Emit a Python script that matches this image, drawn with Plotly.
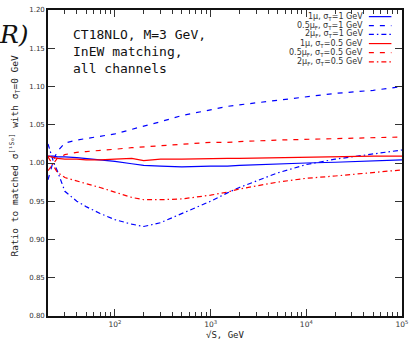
import plotly.graph_objects as go

# Collision energy sqrt(S) in GeV
energy = [20, 23, 25, 30, 40, 50, 70, 100, 150, 200, 300, 500,
          1000, 1500, 2000, 5000, 10000, 20000, 50000, 100000]

# Ratios to the matched cross section with sigma_T = 0 GeV
mu1_s1 = [1.009, 1.009, 1.008, 1.008, 1.007, 1.006, 1.004, 1.002, 0.999, 0.997, 0.996, 0.995,
          0.996, 0.996, 0.997, 0.999, 1.000, 1.001, 1.003, 1.004]
mu05_s1 = [0.978, 1.005, 1.015, 1.026, 1.030, 1.032, 1.035, 1.038, 1.044, 1.048, 1.054, 1.062,
           1.070, 1.074, 1.076, 1.082, 1.087, 1.091, 1.095, 1.100]
mu2_s1 = [1.025, 1.000, 0.990, 0.963, 0.950, 0.943, 0.934, 0.926, 0.920, 0.917, 0.922, 0.934,
          0.950, 0.961, 0.968, 0.987, 0.998, 1.005, 1.012, 1.017]
mu1_s05 = [1.009, 1.007, 1.006, 1.005, 1.005, 1.004, 1.004, 1.005, 1.006, 1.003, 1.005, 1.005,
           1.006, 1.006, 1.006, 1.007, 1.008, 1.008, 1.009, 1.009]
mu05_s05 = [0.990, 1.000, 1.006, 1.011, 1.014, 1.015, 1.016, 1.018, 1.020, 1.021, 1.022, 1.024,
            1.027, 1.027, 1.028, 1.030, 1.031, 1.032, 1.033, 1.034]
mu2_s05 = [1.008, 0.995, 0.988, 0.981, 0.977, 0.973, 0.968, 0.962, 0.955, 0.952, 0.952, 0.953,
           0.958, 0.962, 0.966, 0.975, 0.980, 0.983, 0.988, 0.991]

series = [
    ("1μ, σ<sub>T</sub>=1 GeV", mu1_s1, "#0000ff", "solid"),
    ("0.5μ<sub>F</sub>, σ<sub>T</sub>=1 GeV", mu05_s1, "#0000ff", "5px,6px"),
    ("2μ<sub>F</sub>, σ<sub>T</sub>=1 GeV", mu2_s1, "#0000ff", "5px,3px,1.5px,3px"),
    ("1μ, σ<sub>T</sub>=0.5 GeV", mu1_s05, "#ff0000", "solid"),
    ("0.5μ<sub>F</sub>, σ<sub>T</sub>=0.5 GeV", mu05_s05, "#ff0000", "5px,6px"),
    ("2μ<sub>F</sub>, σ<sub>T</sub>=0.5 GeV", mu2_s05, "#ff0000", "5px,3px,1.5px,3px"),
]

y_ticks = [0.80, 0.85, 0.90, 0.95, 1.00, 1.05, 1.10, 1.15, 1.20]

W, H = 415, 345
L, R, T, B = 47.7, 6.2, 10, 26
pw, ph = W - L - R, H - T - B


def px(x):
    return (x - L) / pw


def py(y):
    return 1 - (y - T) / ph


fig = go.Figure()
for name, vals, color, dash in series:
    fig.add_trace(go.Scatter(x=energy, y=vals, mode="lines", name=name,
                             line=dict(color=color, width=1.2, dash=dash),
                             showlegend=False))

# Legend drawn in the upper right corner: text right-aligned, sample on the right
row_y = [16.7, 25.7, 34.7, 43.9, 53.1, 62.3]
for (name, vals, color, dash), ry in zip(series, row_y):
    fig.add_annotation(x=px(371), y=py(ry), xref="paper", yref="paper",
                       text=name, showarrow=False, xanchor="right", yanchor="middle",
                       font=dict(family="DejaVu Sans", size=8, color="#333"))
    fig.add_shape(type="line", xref="paper", yref="paper",
                  x0=px(375), x1=px(398), y0=py(ry), y1=py(ry),
                  line=dict(color=color, width=1.2, dash=dash))

fig.add_annotation(x=px(71), y=py(25), xref="paper", yref="paper",
                   text="CT18NLO, M=3 GeV,<br>InEW matching,<br>all channels",
                   showarrow=False, xanchor="left", yanchor="top", align="left",
                   font=dict(family="DejaVu Sans Mono", size=13, color="#111"))

# Tail of the title that runs off the left edge
fig.add_annotation(x=px(30), y=py(35), xref="paper", yref="paper",
                   text="<i>R)</i>", showarrow=False, xanchor="right", yanchor="middle",
                   font=dict(family="DejaVu Serif", size=25, color="#111"))

fig.add_annotation(x=px(14), y=py(157), xref="paper", yref="paper", textangle=-90,
                   text="Ratio to matched σ<sup>[¹S₀]</sup> with σ<sub>T</sub>=0 GeV",
                   showarrow=False, xanchor="center", yanchor="middle",
                   font=dict(family="DejaVu Sans Mono", size=9.5, color="#222"))

fig.update_layout(
    width=W, height=H,
    margin=dict(l=L, r=R, t=T, b=B, pad=0),
    paper_bgcolor="white", plot_bgcolor="white",
    xaxis=dict(type="log", range=[1.30103, 5], showgrid=False, zeroline=False,
               showline=True, linecolor="#111", linewidth=1.6, mirror="allticks",
               ticks="inside", ticklen=7, tickwidth=1.2, tickcolor="#333",
               tickvals=[100, 1000, 10000, 100000], exponentformat="power",
               ticktext=["10<sup>2</sup>", "10<sup>3</sup>", "10<sup>4</sup>", "10<sup>5</sup>"],
               minor=dict(ticks="inside", ticklen=4, tickwidth=1, tickcolor="#333",
                          dtick="D1", showgrid=False),
               tickfont=dict(family="DejaVu Sans", size=7.5, color="#333"),
               title=dict(text="√S, GeV", standoff=4,
                          font=dict(family="DejaVu Sans Mono", size=9, color="#222"))),
    yaxis=dict(range=[0.80, 1.20], showgrid=False, zeroline=False,
               showline=True, linecolor="#111", linewidth=1.6, mirror="allticks",
               ticks="inside", ticklen=7, tickwidth=1.2, tickcolor="#333",
               tickvals=y_ticks, ticktext=[f"{v:.2f}" for v in y_ticks],
               tickfont=dict(family="DejaVu Sans", size=7, color="#333")),
)

fig.write_html("out.html")
